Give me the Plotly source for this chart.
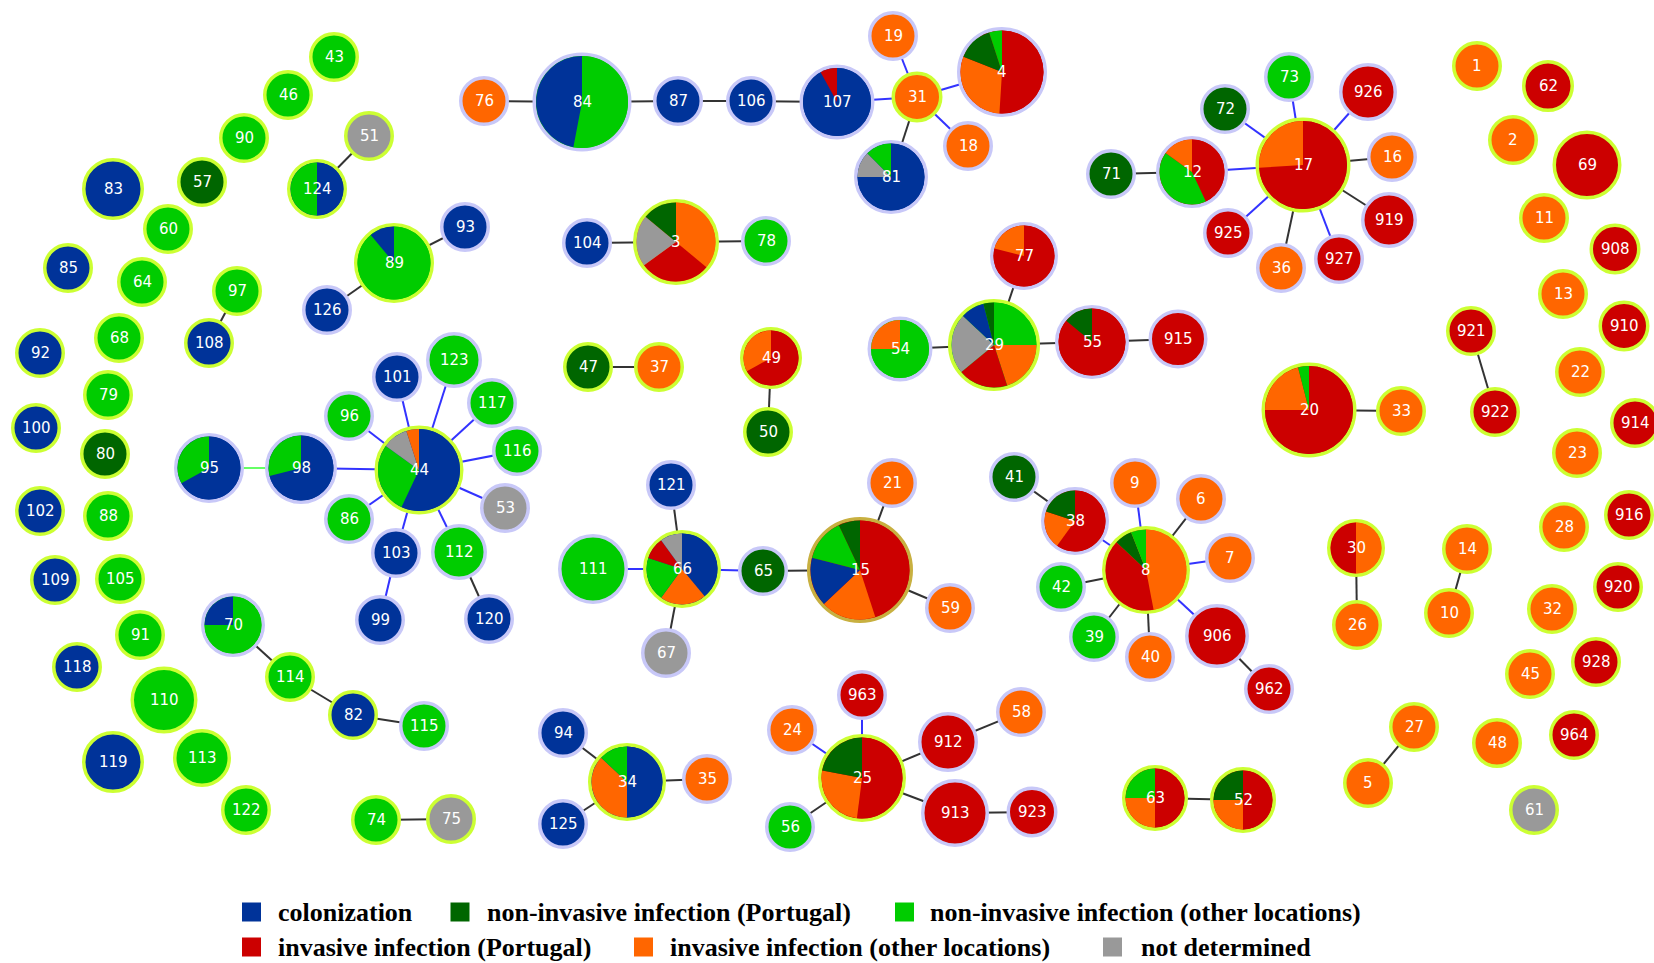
import plotly.graph_objects as go

W, H = 1654, 963

# ---------------- categories ----------------
CAT_KEYS = ["C", "NP", "NO", "IP", "IO", "ND"]
CAT_LABELS = [
    "colonization",
    "non-invasive infection (Portugal)",
    "non-invasive infection (other locations)",
    "invasive infection (Portugal)",
    "invasive infection (other locations)",
    "not determined",
]
CAT_COLORS = {"C": "#003399", "NP": "#006600", "NO": "#00cc00",
              "IP": "#cc0000", "IO": "#ff6600", "ND": "#999999"}

# ---------------- node composition (clockwise from 12 o'clock, %) ----------------
NODE_COMP = {
    "43": "NO", "46": "NO", "90": "NO", "57": "NP", "83": "C", "60": "NO",
    "124": "C:50,NO:50", "51": "ND", "85": "C", "64": "NO", "97": "NO",
    "89": "NO:89,C:11", "93": "C", "126": "C", "108": "C", "68": "NO", "92": "C",
    "79": "NO", "100": "C", "80": "NP", "102": "C", "88": "NO", "109": "C", "105": "NO",
    "95": "C:67,NO:33", "98": "C:71,NO:29", "44": "C:57,NO:28,ND:10,IO:5",
    "101": "C", "123": "NO", "96": "NO", "117": "NO", "116": "NO", "53": "ND",
    "86": "NO", "103": "C", "112": "NO", "99": "C", "120": "C",
    "91": "NO", "118": "C", "70": "NO:75,C:25", "114": "NO", "82": "C", "115": "NO",
    "110": "NO", "119": "C", "113": "NO", "122": "NO", "74": "NO", "75": "ND",
    "76": "IO", "84": "NO:53,C:47", "87": "C", "106": "C", "107": "C:92,IP:8",
    "31": "IO", "19": "IO", "4": "IP:51,IO:30,NP:14,NO:5", "18": "IO",
    "81": "C:75,ND:12.5,NO:12.5", "104": "C", "3": "IO:36,IP:29,ND:21,NP:14",
    "78": "NO", "77": "IP:79,IO:21", "47": "NP", "37": "IO", "49": "IP:67,IO:33",
    "50": "NP", "54": "NO:75,IO:25", "29": "NO:25,IO:20,IP:19,ND:23,C:9,NP:4",
    "55": "IP:86,NP:14", "915": "IP", "121": "C", "111": "NO",
    "66": "C:39,IO:21,NO:20,IP:10,ND:10", "65": "NP", "21": "IO",
    "15": "IP:45,IO:18,C:16,NO:14,NP:7", "59": "IO", "67": "ND", "41": "NP",
    "38": "IP:60,IO:20,NP:20", "94": "C", "125": "C", "34": "C:50,IO:37,NO:13",
    "35": "IO", "963": "IP", "24": "IO", "25": "IP:52,IO:26,NP:22", "912": "IP",
    "58": "IO", "913": "IP", "923": "IP", "56": "NO", "71": "NP", "72": "NP",
    "73": "NO", "12": "IP:43,NO:42,IO:15", "17": "IP:74,IO:26", "926": "IP",
    "16": "IO", "919": "IP", "925": "IP", "36": "IO", "927": "IP",
    "20": "IP:75,IO:21,NO:4", "33": "IO", "9": "IO", "6": "IO", "7": "IO",
    "8": "IO:47,IP:40,NP:7,NO:6", "42": "NO", "39": "NO", "40": "IO", "906": "IP",
    "962": "IP", "30": "IO:50,IP:50", "26": "IO", "63": "IP:50,IO:25,NO:25",
    "52": "IP:50,IO:25,NP:25", "1": "IO", "62": "IP", "2": "IO", "69": "IP",
    "11": "IO", "908": "IP", "13": "IO", "910": "IP", "921": "IP", "922": "IP",
    "22": "IO", "914": "IP", "23": "IO", "28": "IO", "916": "IP", "14": "IO",
    "10": "IO", "920": "IP", "32": "IO", "928": "IP", "45": "IO", "27": "IO",
    "5": "IO", "48": "IO", "964": "IP", "61": "ND",
}

# ---------------- edges ----------------
EDGES_BLACK = [
    ("76", "84"), ("84", "87"), ("87", "106"), ("106", "107"), ("31", "81"),
    ("104", "3"), ("3", "78"), ("124", "51"), ("89", "93"), ("89", "126"),
    ("97", "108"), ("112", "120"), ("70", "114"), ("114", "82"), ("82", "115"),
    ("74", "75"), ("47", "37"), ("49", "50"), ("54", "29"), ("29", "55"),
    ("55", "915"), ("77", "29"), ("121", "66"), ("66", "67"), ("65", "15"),
    ("15", "21"), ("15", "59"), ("41", "38"), ("71", "12"), ("16", "17"),
    ("919", "17"), ("36", "17"), ("20", "33"), ("921", "922"), ("6", "8"),
    ("42", "8"), ("39", "8"), ("40", "8"), ("906", "962"), ("30", "26"),
    ("14", "10"), ("27", "5"), ("63", "52"), ("94", "34"), ("125", "34"),
    ("34", "35"), ("25", "912"), ("912", "58"), ("25", "913"), ("913", "923"),
    ("25", "56"),
]
EDGES_BLUE = [
    ("107", "31"), ("31", "19"), ("31", "4"), ("31", "18"), ("98", "44"),
    ("96", "44"), ("101", "44"), ("123", "44"), ("117", "44"), ("116", "44"),
    ("53", "44"), ("112", "44"), ("103", "44"), ("86", "44"), ("103", "99"),
    ("111", "66"), ("66", "65"), ("12", "17"), ("72", "17"), ("73", "17"),
    ("926", "17"), ("927", "17"), ("925", "17"), ("9", "8"), ("7", "8"),
    ("38", "8"), ("8", "906"), ("963", "25"), ("24", "25"),
]
EDGES_GREEN = [("95", "98")]

# ---------------- layout of nodes: x, y (px), outer radius, ring style ----------------
NODE_LAYOUT = {
    "43": (334, 57, 25, "L"), "46": (288, 95, 25, "L"), "90": (244, 138, 25, "L"),
    "57": (202, 182, 25, "L"), "83": (113, 189, 31, "L"), "60": (168, 229, 25, "L"),
    "124": (317, 189, 30, "L"), "51": (369, 136, 25, "L"), "85": (68, 268, 25, "L"),
    "64": (142, 282, 25, "L"), "97": (237, 291, 25, "L"), "89": (394, 263, 40, "L"),
    "93": (465, 227, 25, "V"), "126": (327, 310, 25, "V"), "108": (209, 343, 25, "L"),
    "68": (119, 338, 25, "L"), "92": (40, 353, 25, "L"), "79": (108, 395, 25, "L"),
    "100": (36, 428, 25, "L"), "80": (105, 454, 25, "L"), "102": (40, 511, 25, "L"),
    "88": (108, 516, 25, "L"), "109": (55, 580, 25, "L"), "105": (120, 579, 25, "L"),
    "95": (209, 468, 35, "V"), "98": (301, 468, 36, "V"), "44": (419, 470, 44.5, "L"),
    "101": (397, 377, 25, "V"), "123": (454, 360, 28, "V"), "96": (349, 416, 25, "V"),
    "117": (492, 403, 25, "V"), "116": (517, 451, 25, "V"), "53": (505, 508, 25, "V"),
    "86": (349, 519, 25, "V"), "103": (396, 553, 25, "V"), "112": (459, 552, 28, "V"),
    "99": (380, 620, 25, "V"), "120": (489, 619, 25, "V"), "91": (140, 635, 25, "L"),
    "118": (77, 667, 25, "L"), "70": (233, 625, 32, "V"), "114": (290, 677, 25, "L"),
    "82": (353, 715, 25, "L"), "115": (424, 726, 25, "V"), "110": (164, 700, 33.5, "L"),
    "119": (113, 762, 31, "L"), "113": (202, 758, 29, "L"), "122": (246, 810, 25, "L"),
    "74": (376, 820, 25, "L"), "75": (451, 819, 25, "L"), "76": (484, 101, 25, "V"),
    "84": (582, 102, 49.5, "V"), "87": (678, 101, 25, "V"), "106": (751, 101, 25, "V"),
    "107": (837, 102, 37.5, "V"), "31": (917, 97, 25.5, "L"), "19": (893, 36, 25, "V"),
    "4": (1002, 72, 45, "V"), "18": (968, 146, 25, "V"), "81": (891, 177, 37, "V"),
    "104": (587, 243, 25, "V"), "3": (676, 242, 43, "L"), "78": (766, 241, 25, "V"),
    "77": (1024, 256, 34, "V"), "47": (588, 367, 25, "L"), "37": (659, 367, 25, "L"),
    "49": (771, 358, 31, "L"), "50": (768, 432, 25, "L"), "54": (900, 349, 32.5, "V"),
    "29": (994, 345, 46, "L"), "55": (1092, 342, 37, "V"), "915": (1178, 339, 29.5, "V"),
    "121": (671, 485, 25, "V"), "111": (593, 569, 35, "V"), "66": (682, 569, 39, "L"),
    "65": (763, 571, 25, "V"), "21": (892, 483, 25, "V"), "15": (860, 570, 53, "K"),
    "59": (950, 608, 25, "V"), "67": (666, 653, 25, "V"), "41": (1014, 477, 25, "V"),
    "38": (1075, 521, 34, "V"), "94": (563, 733, 25, "V"), "125": (563, 824, 25, "V"),
    "34": (627, 782, 39, "L"), "35": (707, 779, 25, "V"), "963": (862, 695, 25, "V"),
    "24": (792, 730, 25, "V"), "25": (862, 778, 44, "L"), "912": (948, 742, 30, "V"),
    "58": (1021, 712, 25, "V"), "913": (955, 813, 34, "V"), "923": (1032, 812, 25.5, "V"),
    "56": (790, 827, 25, "V"), "71": (1111, 174, 25, "V"), "72": (1225, 109, 25, "V"),
    "73": (1289, 77, 25, "V"), "12": (1192, 172, 36, "V"), "17": (1303, 165, 47.5, "L"),
    "926": (1368, 92, 29, "V"), "16": (1392, 157, 25, "V"), "919": (1389, 220, 28, "V"),
    "925": (1228, 233, 25, "V"), "36": (1281, 268, 25, "V"), "927": (1339, 259, 25, "V"),
    "20": (1309, 410, 47.5, "L"), "33": (1401, 411, 25, "L"), "9": (1135, 483, 25, "V"),
    "6": (1201, 499, 25, "V"), "7": (1230, 558, 25, "V"), "8": (1146, 570, 44, "L"),
    "42": (1061, 587, 25, "V"), "39": (1094, 637, 25, "V"), "40": (1150, 657, 25, "V"),
    "906": (1217, 636, 32, "V"), "962": (1269, 689, 25, "V"), "30": (1356, 548, 29, "L"),
    "26": (1357, 625, 25, "L"), "63": (1155, 798, 33, "L"), "52": (1243, 800, 33, "L"),
    "1": (1477, 66, 25, "L"), "62": (1548, 86, 26, "L"), "2": (1513, 140, 25, "L"),
    "69": (1587, 165, 34.5, "L"), "11": (1544, 218, 25, "L"), "908": (1615, 249, 25.5, "L"),
    "13": (1563, 294, 25, "L"), "910": (1624, 326, 25.5, "L"), "921": (1471, 331, 25, "L"),
    "922": (1495, 412, 25, "L"), "22": (1580, 372, 25, "L"), "914": (1635, 423, 25, "L"),
    "23": (1577, 453, 25, "L"), "28": (1564, 527, 25, "L"), "916": (1629, 515, 25, "L"),
    "14": (1467, 549, 25, "L"), "10": (1449, 613, 25, "L"), "920": (1618, 587, 25, "L"),
    "32": (1552, 609, 25, "L"), "928": (1596, 662, 25, "L"), "45": (1530, 674, 25, "L"),
    "27": (1414, 727, 25, "L"), "5": (1368, 783, 25, "L"), "48": (1497, 743, 25, "L"),
    "964": (1574, 735, 25, "L"), "61": (1534, 810, 25, "L"),
}
RING_COLORS = {"L": "#ccff33", "V": "#c8c8f8", "K": "#c8b040"}
RING_W = 3.5

# legend placement (px)
LEGEND_POS = [(251.5, 912, 276), (460, 912, 485), (904.5, 912, 928),
              (251.5, 947, 276), (643.5, 947, 668), (1112.5, 947, 1139)]


def parse(comp):
    if ":" not in comp:
        return [(comp, 100.0)]
    out = []
    for part in comp.split(","):
        k, v = part.split(":")
        out.append((k, float(v)))
    return out


fig = go.Figure()

# edges
for edges, col in ((EDGES_BLACK, "#333333"), (EDGES_BLUE, "#3333ff"), (EDGES_GREEN, "#66ff66")):
    ex, ey = [], []
    for a, b in edges:
        xa, ya = NODE_LAYOUT[a][:2]
        xb, yb = NODE_LAYOUT[b][:2]
        ex += [xa, xb, None]
        ey += [ya, yb, None]
    fig.add_trace(go.Scatter(x=ex, y=ey, mode="lines", line=dict(color=col, width=2),
                             hoverinfo="skip", showlegend=False))

# nodes (disc + ring)
ids = list(NODE_COMP.keys())
nx = [NODE_LAYOUT[i][0] for i in ids]
ny = [NODE_LAYOUT[i][1] for i in ids]
nsize = [2 * NODE_LAYOUT[i][2] - RING_W for i in ids]
nring = [RING_COLORS[NODE_LAYOUT[i][3]] for i in ids]
nfill = [CAT_COLORS[parse(NODE_COMP[i])[0][0]] for i in ids]
fig.add_trace(go.Scatter(x=nx, y=ny, mode="markers",
                         marker=dict(size=nsize, color=nfill, opacity=1,
                                     line=dict(color=nring, width=RING_W)),
                         hoverinfo="skip", showlegend=False))

# pies for mixed nodes
for i in ids:
    parts = parse(NODE_COMP[i])
    if len(parts) < 2:
        continue
    x, y, r, _ = NODE_LAYOUT[i]
    ri = r - RING_W
    fig.add_trace(go.Pie(
        values=[v for _, v in parts],
        labels=[k for k, _ in parts],
        marker=dict(colors=[CAT_COLORS[k] for k, _ in parts], line=dict(width=0)),
        sort=False, direction="clockwise", rotation=0,
        textinfo="none", hoverinfo="skip", showlegend=False,
        domain=dict(x=[(x - ri) / W, (x + ri) / W], y=[1 - (y + ri) / H, 1 - (y - ri) / H]),
    ))

annotations = []
for i in ids:
    x, y = NODE_LAYOUT[i][:2]
    annotations.append(dict(x=x, y=y, xref="x", yref="y", text=i, showarrow=False,
                            font=dict(family="DejaVu Sans", size=15, color="white"),
                            xanchor="center", yanchor="middle"))

# legend
fig.add_trace(go.Scatter(x=[p[0] for p in LEGEND_POS], y=[p[1] for p in LEGEND_POS],
                         mode="markers",
                         marker=dict(symbol="square", size=19,
                                     color=[CAT_COLORS[k] for k in CAT_KEYS]),
                         hoverinfo="skip", showlegend=False, cliponaxis=False))
for (sx, sy, tx), lab in zip(LEGEND_POS, CAT_LABELS):
    annotations.append(dict(x=tx, y=sy, xref="x", yref="y", text="<b>" + lab + "</b>",
                            showarrow=False, xanchor="left", yanchor="middle",
                            font=dict(family="Liberation Serif", size=26, color="black")))

fig.update_layout(
    width=W, height=H, margin=dict(l=0, r=0, t=0, b=0),
    paper_bgcolor="white", plot_bgcolor="white",
    xaxis=dict(range=[0, W], visible=False, fixedrange=True),
    yaxis=dict(range=[H, 0], visible=False, fixedrange=True),
    showlegend=False, hovermode=False, annotations=annotations,
)

fig.write_html("out.html", config={"displayModeBar": False},
               post_script="document.body.style.margin='0';document.body.style.overflow='hidden';")
